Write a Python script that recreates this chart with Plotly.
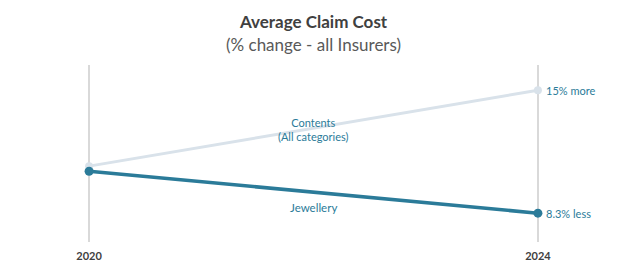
import plotly.graph_objects as go

years = [2020, 2024]
contents = [100.0, 115.0]
jewellery = [99.0, 90.7]
end_labels = ["15% more", "8.3% less"]
series_names = ["Contents<br>(All categories)", "Jewellery"]

FONT = "Lato"
TEAL = "#2b7b99"
LIGHT = "#d9e2ea"

fig = go.Figure()
fig.add_trace(go.Scatter(x=years, y=contents, mode="lines+markers",
                         line=dict(color=LIGHT, width=3),
                         marker=dict(color=LIGHT, size=8), cliponaxis=False,
                         hoverinfo="skip"))
fig.add_trace(go.Scatter(x=years, y=jewellery, mode="lines+markers",
                         line=dict(color=TEAL, width=3.5),
                         marker=dict(color=TEAL, size=9), cliponaxis=False,
                         hoverinfo="skip"))

ann = []
ann.append(dict(x=years[1], y=contents[1], text=end_labels[0], xanchor="left",
                xshift=6, showarrow=False, font=dict(family=FONT, size=11, color=TEAL)))
ann.append(dict(x=years[1], y=jewellery[1], text=end_labels[1], xanchor="left",
                xshift=6, showarrow=False, font=dict(family=FONT, size=11, color=TEAL)))
ann.append(dict(x=2022, y=107.3, text=series_names[0], showarrow=False,
                font=dict(family=FONT, size=11, color=TEAL)))
ann.append(dict(x=2022, y=91.8, text=series_names[1], showarrow=False,
                font=dict(family=FONT, size=11.5, color=TEAL)))
ann.append(dict(xref="paper", yref="paper", x=0.5, y=1, yshift=44, yanchor="middle",
                text="<b>Average Claim Cost</b>", showarrow=False,
                font=dict(family=FONT, size=17, color="#404040")))
ann.append(dict(xref="paper", yref="paper", x=0.5, y=1, yshift=21, yanchor="middle",
                text="(% change - all Insurers)", showarrow=False,
                font=dict(family=FONT, size=17, color="#595959")))

fig.update_layout(
    width=624, height=266,
    margin=dict(l=33, r=30, t=65, b=24),
    paper_bgcolor="white", plot_bgcolor="white",
    showlegend=False,
    annotations=ann,
    xaxis=dict(range=[2019.5, 2024.5], tickvals=years,
               ticktext=["<b>%d</b>" % y for y in years],
               showgrid=True, gridcolor="#d9d9d9", gridwidth=1.5,
               zeroline=False, showline=False, ticks="",
               ticklabelstandoff=6, automargin=False,
               tickfont=dict(family=FONT, size=11, color="#404040")),
    yaxis=dict(range=[85, 120], showgrid=False, zeroline=False,
               showticklabels=False, showline=False, automargin=False),
)

fig.write_html("out.html")
